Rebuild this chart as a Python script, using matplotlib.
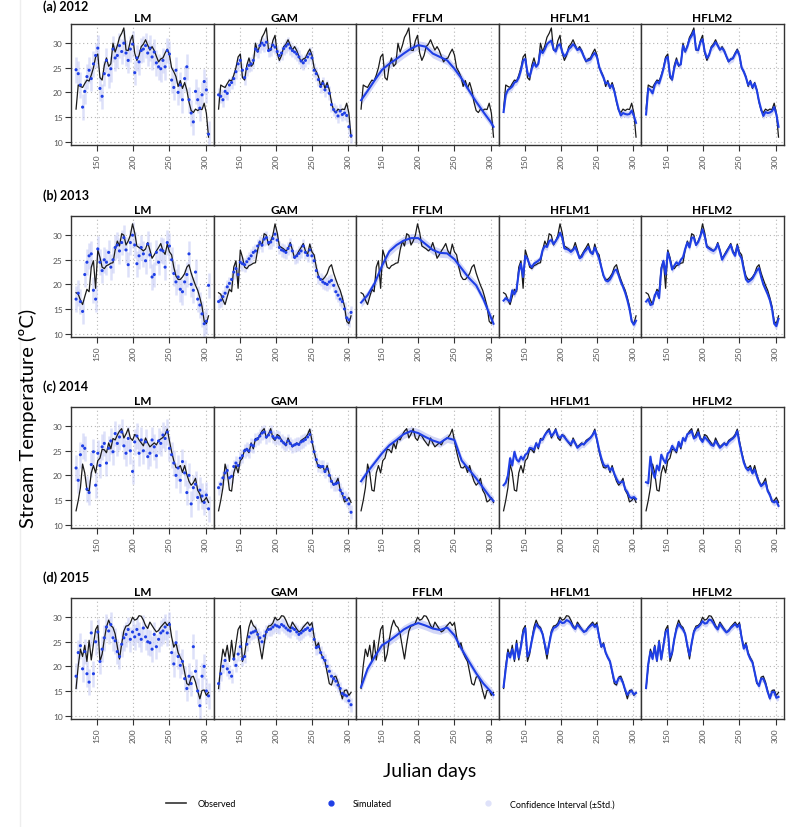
import numpy as np
import matplotlib
matplotlib.use("Agg")
import matplotlib.pyplot as plt
from matplotlib.lines import Line2D

plt.rcParams['font.family'] = ['Lato', 'DejaVu Sans']

years = ['2012', '2013', '2014', '2015']
row_labels = ['(a) 2012', '(b) 2013', '(c) 2014', '(d) 2015']
models = ['LM', 'GAM', 'FFLM', 'HFLM1', 'HFLM2']
ci_half = [2.6, 1.4, 0.9, 0.7, 0.7]   # +- std per model

# julian days (every 3rd day) and a coarser grid for the smooth FFLM fit
days = list(range(121, 305, 3))
days_smooth = [121, 130, 140, 150, 160, 170, 180, 190, 200, 210,
               220, 230, 240, 250, 260, 270, 280, 290, 300, 304]

# ---- 2012 ----
obs_2012 = [16.6, 21.5, 21.2, 21.0, 21.8, 22.5, 22.3, 23.5, 25.0, 27.2,
            27.8, 23.0, 22.5, 25.5, 27.0, 25.3, 25.8, 30.0, 28.2, 29.5,
            31.2, 32.0, 33.1, 28.6, 28.5, 30.5, 31.6, 28.0, 26.5, 27.5,
            29.3, 29.8, 30.7, 29.6, 28.6, 29.3, 28.5, 27.3, 26.2, 26.8,
            27.0, 28.0, 28.8, 27.6, 25.0, 24.2, 23.2, 21.2, 22.4, 20.8,
            22.0, 20.5, 18.0, 16.3, 15.9, 16.6, 16.3, 16.6, 16.5, 17.8,
            15.8, 10.9]
lm_2012 = [24.6, 23.8, 21.5, 17.0, 20.2, 23.2, 24.5, 22.8, 25.8, 27.5,
           29.0, 20.8, 19.2, 23.8, 26.5, 23.5, 24.8, 28.8, 27.0, 27.5,
           29.5, 28.3, 30.0, 28.0, 26.5, 28.8, 29.8, 24.0, 27.0, 26.2,
           28.5, 28.8, 29.5, 28.0, 29.0, 27.2, 28.2, 26.0, 25.2, 24.8,
           26.5, 25.2, 28.5, 27.8, 22.5, 21.0, 24.5, 20.0, 21.5, 18.5,
           22.8, 25.2, 18.5, 15.8, 14.0, 20.2, 18.5, 16.8, 19.5, 22.2,
           20.5, 11.5]
gam_2012 = [19.5, 19.2, 18.5, 20.2, 19.8, 21.5, 22.0, 22.8, 24.2, 25.8,
            26.5, 24.5, 23.0, 24.8, 25.5, 25.8, 26.5, 28.8, 28.4, 29.5,
            30.0, 29.6, 30.2, 28.5, 28.8, 29.6, 29.2, 28.3, 27.5, 28.0,
            28.9, 29.4, 29.8, 29.0, 28.5, 28.2, 27.8, 27.2, 26.4, 26.0,
            26.5, 27.2, 27.8, 27.0, 24.5, 23.8, 22.6, 21.2, 21.8, 20.5,
            21.2, 19.8, 17.5, 16.5, 16.0, 15.2, 16.2, 15.5, 15.8, 15.3,
            13.0, 11.2]
fflm_2012 = [18.4, 20.3, 22.5, 24.6, 25.8, 26.8, 27.9, 28.9, 29.6, 29.3,
             27.9, 27.2, 26.5, 24.8, 22.8, 20.4, 18.1, 16.0, 14.0, 13.0]
hflm1_2012 = [16.0, 19.5, 20.5, 20.8, 21.2, 22.0, 22.2, 23.0, 24.5, 26.5,
              26.8, 24.0, 23.2, 24.8, 26.0, 25.2, 25.8, 28.5, 28.0, 28.8,
              29.8, 30.2, 30.5, 28.8, 28.3, 29.5, 29.8, 28.2, 27.3, 27.8,
              28.8, 29.2, 29.8, 29.3, 28.6, 28.9, 28.3, 27.2, 26.4, 26.5,
              26.7, 27.5, 28.0, 27.2, 25.2, 24.0, 23.0, 21.8, 22.0, 21.0,
              21.5, 20.2, 18.3, 16.5, 15.3, 15.8, 15.6, 15.5, 15.6, 16.3,
              15.2, 13.8]
hflm2_2012 = [15.5, 20.8, 20.5, 19.8, 21.5, 22.2, 21.8, 23.2, 24.8, 26.8,
              27.2, 23.5, 22.6, 25.0, 26.5, 25.5, 25.7, 29.5, 28.3, 29.3,
              30.8, 31.5, 32.5, 28.7, 28.6, 30.2, 30.8, 28.3, 27.0, 27.6,
              29.0, 29.5, 30.2, 29.5, 28.7, 29.0, 28.4, 27.3, 26.3, 26.7,
              26.9, 27.8, 28.5, 27.5, 25.0, 24.2, 23.0, 21.5, 22.2, 21.0,
              21.8, 20.4, 18.2, 16.5, 15.2, 16.0, 15.8, 15.9, 16.2, 17.0,
              15.5, 13.0]

# ---- 2013 ----
obs_2013 = [18.3, 18.0, 16.8, 15.9, 17.5, 19.0, 18.5, 23.5, 24.8, 19.2,
            27.0, 25.5, 23.5, 23.2, 23.8, 24.0, 24.3, 24.4, 27.0, 28.8,
            27.8, 30.3, 30.0, 28.0, 28.8, 30.0, 32.3, 30.5, 27.8, 27.5,
            27.2, 26.8, 27.2, 28.5, 27.0, 25.3, 26.0, 26.8, 27.5, 28.3,
            26.8, 26.1, 28.2, 26.6, 26.0, 23.5, 21.7, 21.0, 21.0, 21.5,
            22.2, 23.5, 24.0, 22.3, 21.0, 19.8, 18.8, 17.3, 15.5, 12.5,
            12.0, 13.6]
lm_2013 = [17.0, 18.2, 16.5, 14.5, 22.0, 24.5, 25.8, 26.2, 18.8, 17.0,
           27.2, 24.5, 22.8, 25.0, 24.5, 26.5, 23.5, 25.0, 27.5, 28.0,
           26.8, 28.5, 29.5, 27.0, 24.0, 28.5, 30.0, 28.0, 24.2, 25.8,
           27.5, 26.2, 24.8, 28.2, 26.0, 21.5, 22.0, 26.5, 24.5, 27.0,
           26.8, 23.5, 28.5, 27.8, 25.0, 22.2, 20.5, 21.5, 19.0, 18.5,
           20.5, 22.0, 26.2, 20.0, 18.8, 22.5, 17.0, 15.8, 14.0, 12.0,
           12.5, 19.8]
gam_2013 = [16.5, 16.8, 17.5, 18.2, 19.5, 20.2, 21.0, 22.5, 23.2, 22.0,
            24.5, 24.2, 24.0, 24.6, 25.2, 25.8, 26.5, 26.8, 27.8, 28.5,
            28.0, 29.2, 29.5, 28.5, 28.6, 29.3, 30.2, 29.0, 27.5, 27.0,
            26.8, 26.5, 27.3, 28.0, 26.8, 25.5, 25.8, 26.3, 26.8, 27.8,
            26.5, 25.9, 27.0, 25.8, 24.8, 22.8, 21.5, 21.0, 20.5, 20.2,
            20.0, 20.5, 20.8, 19.8, 18.5, 17.8, 17.0, 16.5, 15.0, 13.2,
            12.8, 14.3]
fflm_2013 = [16.3, 17.8, 20.3, 23.8, 26.7, 28.0, 28.9, 29.4, 29.4, 28.2,
             27.0, 26.4, 26.3, 25.1, 23.2, 21.3, 19.8, 17.0, 13.4, 12.0]
hflm1_2013 = [16.7, 17.2, 16.8, 16.5, 18.8, 18.0, 19.0, 22.5, 24.2, 21.5,
              25.8, 25.2, 24.0, 23.5, 24.2, 24.5, 24.8, 25.2, 27.0, 27.8,
              27.6, 28.8, 29.0, 28.2, 28.8, 29.5, 30.5, 29.5, 27.3, 27.2,
              27.0, 26.6, 27.0, 27.6, 26.5, 25.3, 25.6, 26.5, 27.0, 27.6,
              26.5, 26.2, 27.5, 26.4, 25.2, 23.5, 21.8, 20.8, 20.6, 21.0,
              21.8, 22.8, 23.0, 21.8, 20.5, 19.5, 18.3, 16.8, 15.0, 12.5,
              11.8, 12.6]
hflm2_2013 = [16.5, 17.0, 15.8, 16.0, 17.8, 18.5, 17.2, 23.0, 24.8, 22.0,
              26.5, 25.0, 23.0, 23.8, 24.5, 24.0, 25.0, 25.5, 27.2, 28.5,
              27.5, 29.5, 29.5, 28.0, 28.6, 29.8, 31.2, 29.8, 27.6, 27.3,
              27.0, 26.8, 27.2, 28.2, 26.8, 25.0, 25.8, 26.5, 27.3, 28.0,
              26.5, 25.8, 27.8, 26.0, 25.3, 23.0, 21.0, 20.5, 20.8, 21.2,
              22.0, 22.8, 23.3, 21.5, 20.0, 19.0, 18.0, 16.8, 15.0, 12.0,
              11.5, 13.0]

# ---- 2014 ----
obs_2014 = [12.8, 14.9, 17.5, 22.3, 20.5, 17.0, 16.8, 20.5, 22.0, 20.5,
            23.0, 23.5, 25.3, 25.2, 24.6, 26.6, 25.4, 27.5, 27.2, 28.2,
            29.0, 29.5, 27.6, 28.4, 29.5, 27.6, 27.1, 28.3, 28.0, 27.2,
            26.6, 26.0, 27.6, 26.6, 25.8, 26.2, 26.6, 26.2, 27.1, 27.4,
            27.7, 28.3, 29.4, 27.0, 24.8, 23.0, 21.6, 21.5, 22.0, 20.6,
            22.0, 20.2, 18.8, 18.0, 18.5, 19.4, 17.0, 16.2, 14.6, 14.9,
            15.5, 14.5]
lm_2014 = [21.5, 19.0, 24.2, 26.0, 25.5, 17.2, 16.5, 22.2, 24.8, 18.0,
           24.5, 22.0, 25.8, 26.5, 22.5, 25.5, 27.0, 24.8, 28.5, 26.5,
           27.8, 28.8, 26.0, 24.5, 27.5, 25.0, 20.8, 26.8, 28.0, 24.5,
           27.2, 25.0, 26.8, 23.8, 24.5, 27.2, 25.8, 24.0, 27.0, 26.5,
           28.2, 27.5, 28.8, 25.5, 24.2, 22.5, 20.0, 21.5, 19.0, 22.8,
           20.5, 16.5, 20.0, 14.2, 17.5, 18.2, 15.5, 17.0, 15.8, 14.5,
           16.0, 13.2]
gam_2014 = [17.5, 18.2, 19.5, 20.5, 21.0, 19.5, 19.8, 21.8, 22.5, 22.0,
            23.5, 24.0, 25.0, 25.3, 25.0, 26.2, 26.0, 27.2, 27.5, 28.0,
            28.6, 28.8, 27.8, 28.2, 28.8, 27.9, 27.5, 27.8, 27.6, 27.0,
            26.6, 26.3, 27.0, 26.5, 26.0, 26.2, 26.4, 26.3, 26.8, 27.0,
            27.3, 27.8, 28.3, 26.8, 24.8, 23.2, 22.0, 21.8, 21.8, 20.8,
            21.3, 20.0, 18.8, 18.2, 18.3, 18.5, 17.0, 16.3, 15.5, 15.0,
            14.2, 12.5]
fflm_2014 = [18.8, 20.7, 22.6, 24.5, 26.1, 27.2, 28.4, 29.0, 28.6, 27.8,
             27.1, 26.6, 27.6, 27.2, 23.0, 21.2, 19.4, 17.4, 15.4, 14.8]
hflm1_2014 = [18.0, 18.5, 20.0, 23.5, 22.0, 24.8, 23.2, 22.8, 23.8, 23.2,
              24.2, 24.5, 25.6, 25.5, 25.2, 26.5, 25.8, 27.2, 27.3, 28.2,
              28.8, 29.1, 28.0, 28.5, 29.2, 28.0, 27.6, 28.2, 27.8, 27.2,
              26.7, 26.3, 27.2, 26.5, 25.6, 26.0, 26.4, 26.3, 26.8, 27.2,
              27.6, 28.2, 29.0, 27.3, 25.2, 23.5, 22.2, 21.8, 22.0, 21.0,
              21.5, 20.3, 19.3, 18.5, 18.6, 18.8, 17.2, 16.6, 15.6, 15.4,
              15.6, 15.2]
hflm2_2014 = [18.6, 18.4, 23.8, 20.8, 19.5, 22.0, 21.0, 24.2, 23.2, 22.5,
              24.5, 24.8, 26.0, 25.3, 25.0, 26.8, 25.8, 27.6, 27.0, 28.4,
              28.6, 29.0, 27.5, 27.8, 28.7, 27.4, 26.8, 27.8, 27.3, 26.8,
              26.2, 26.0, 27.0, 26.3, 25.6, 26.0, 26.5, 26.1, 26.8, 27.2,
              27.5, 28.0, 29.0, 26.5, 24.5, 22.6, 21.5, 21.0, 21.5, 20.4,
              21.2, 19.8, 18.6, 17.8, 18.2, 18.6, 16.8, 16.0, 14.8, 14.5,
              14.8, 13.8]

# ---- 2015 ----
obs_2015 = [15.5, 20.1, 23.5, 22.0, 24.3, 21.0, 25.3, 21.3, 24.5, 27.5,
            28.3, 21.0, 22.5, 25.5, 28.0, 29.4, 28.3, 27.9, 26.6, 24.0,
            21.5, 24.6, 27.2, 28.2, 28.3, 28.8, 30.0, 29.4, 29.6, 30.3,
            30.2, 29.4, 28.3, 27.7, 29.0, 28.3, 27.6, 27.0, 27.3, 28.0,
            28.5, 29.0, 28.3, 28.9, 26.0, 23.9, 24.8, 22.8, 21.8, 21.0,
            18.8, 16.5, 16.2, 17.8, 18.0, 16.8, 15.0, 13.4, 15.1, 15.2,
            14.1, 14.7]
lm_2015 = [18.0, 22.8, 24.2, 19.5, 23.0, 18.5, 16.8, 26.8, 18.5, 25.0,
           27.0, 21.0, 23.5, 25.8, 28.0, 27.2, 28.5, 25.8, 25.2, 23.0,
           22.0, 24.5, 25.8, 26.5, 27.5, 25.5, 27.0, 26.0, 27.5, 26.5,
           25.5, 27.8, 26.0, 25.0, 24.8, 23.5, 26.5, 24.0, 25.5, 26.8,
           27.2, 28.0, 26.8, 28.5, 22.8, 20.5, 24.8, 22.0, 20.2, 21.0,
           17.5, 15.5, 18.0, 16.5, 24.0, 19.0, 15.0, 12.0, 18.0, 20.0,
           15.0, 14.0]
gam_2015 = [16.5, 18.5, 20.0, 21.2, 19.5, 18.8, 18.0, 21.5, 20.2, 22.5,
            24.0, 21.5, 22.0, 24.5, 26.0, 26.8, 27.0, 27.2, 26.5, 25.8,
            25.0, 26.2, 27.0, 27.5, 27.6, 28.0, 28.4, 28.2, 28.0, 28.5,
            28.2, 27.8, 27.4, 27.2, 27.8, 27.5, 27.0, 26.5, 26.8, 27.2,
            27.5, 27.8, 27.3, 27.6, 25.5, 23.8, 24.0, 22.8, 21.8, 21.2,
            20.0, 19.0, 18.0, 17.5, 17.0, 16.2, 15.5, 14.5, 14.2, 14.0,
            13.0, 12.2]
fflm_2015 = [15.8, 19.5, 22.0, 24.3, 25.2, 26.3, 27.5, 28.3, 28.8, 28.3,
             27.7, 27.4, 27.9, 26.3, 23.5, 21.0, 18.6, 16.5, 14.9, 14.2]
hflm1_2015 = [15.8, 19.5, 22.8, 21.8, 23.5, 21.5, 24.6, 21.8, 24.0, 26.8,
              27.8, 22.0, 23.0, 25.2, 27.3, 28.6, 28.0, 27.6, 26.5, 24.5,
              22.5, 24.6, 26.8, 27.8, 28.0, 28.4, 29.2, 28.8, 28.9, 29.4,
              29.2, 28.8, 28.0, 27.6, 28.5, 28.0, 27.5, 27.0, 27.2, 27.8,
              28.2, 28.6, 28.0, 28.4, 26.0, 24.0, 24.5, 22.8, 21.8, 21.0,
              19.0, 17.0, 16.6, 17.6, 17.6, 16.6, 15.2, 14.2, 14.8, 15.0,
              14.3, 14.6]
hflm2_2015 = [15.6, 20.5, 23.0, 21.5, 24.0, 21.2, 25.0, 21.5, 24.2, 27.0,
              27.5, 21.8, 22.8, 25.6, 27.6, 28.6, 28.0, 27.5, 26.6, 24.3,
              22.2, 24.8, 27.0, 27.8, 28.0, 28.5, 29.2, 28.7, 28.8, 29.5,
              29.4, 28.8, 28.0, 27.5, 28.6, 28.0, 27.4, 26.9, 27.2, 27.8,
              28.2, 28.6, 28.0, 28.5, 25.8, 23.6, 24.4, 22.5, 21.5, 20.8,
              18.8, 16.8, 16.0, 17.5, 17.5, 16.4, 14.8, 13.5, 14.8, 14.8,
              13.6, 13.8]

observed = {'2012': obs_2012, '2013': obs_2013, '2014': obs_2014, '2015': obs_2015}
simulated = {
    '2012': [lm_2012, gam_2012, fflm_2012, hflm1_2012, hflm2_2012],
    '2013': [lm_2013, gam_2013, fflm_2013, hflm1_2013, hflm2_2013],
    '2014': [lm_2014, gam_2014, fflm_2014, hflm1_2014, hflm2_2014],
    '2015': [lm_2015, gam_2015, fflm_2015, hflm1_2015, hflm2_2015],
}

BLUE = '#1f3fe6'
BAND = '#c7ccf6'
GRAY = '#555555'

W, H = 795, 828
fig = plt.figure(figsize=(W / 100, H / 100), dpi=100)

col_left = [71, 213.5, 356, 498.5, 641]
row_top = [25, 217, 408, 599]
pw, ph = 142.6, 121

for r, yr in enumerate(years):
    obs = np.array(observed[yr])
    for c, m in enumerate(models):
        ax = fig.add_axes([col_left[c] / W, 1 - (row_top[r] + ph) / H, pw / W, ph / H])
        sim = np.array(simulated[yr][c])
        ci = ci_half[c]
        if m in ('LM', 'GAM'):
            ax.vlines(days, sim - ci, sim + ci, color=BAND, lw=1.8, alpha=0.6, zorder=2)
            ax.plot(days, obs, color='#1a1a1a', lw=0.9, zorder=3)
            ax.scatter(days, sim, s=5, color=BLUE, edgecolors='none', zorder=4)
        else:
            x = days_smooth if m == 'FFLM' else days
            ax.fill_between(x, sim - ci, sim + ci, color=BAND, alpha=0.8, lw=0, zorder=2)
            ax.plot(days, obs, color='#1a1a1a', lw=0.9, zorder=3)
            ax.plot(x, sim, color=BLUE, lw=1.5, zorder=4)

        ax.set_xlim(114, 311)
        ax.set_ylim(9.3, 33.9)
        ax.set_xticks([150, 200, 250, 300])
        ax.set_xticklabels(['150', '200', '250', '300'], rotation=90)
        ax.set_yticks([10, 15, 20, 25, 30])
        ax.grid(True, ls=(0, (1, 2.5)), color='#b5b5b5', lw=0.8)
        ax.tick_params(axis='both', direction='out', length=4, width=0.8,
                       color='#333333', labelcolor=GRAY, labelsize=6, pad=2)
        ax.tick_params(top=False, right=False)
        if c > 0:
            ax.tick_params(left=False, labelleft=False)
        for s in ax.spines.values():
            s.set_color('#333333')
            s.set_linewidth(1.0)
        ax.set_title(m, fontsize=8.5, fontweight='bold', pad=2.5)

    label_y = row_top[r] - 21 if r > 0 else 7
    fig.text(43 / W, 1 - label_y / H, row_labels[r], fontsize=9,
             fontweight='bold', ha='left', va='center')

fig.text(28 / W, 1 - 418 / H, 'Stream Temperature (ºC)', rotation=90,
         fontsize=14.5, ha='center', va='center')
fig.text(430 / W, 1 - 772 / H, 'Julian days', fontsize=14, ha='center', va='center')

# faint page edge on the left
fig.add_artist(Line2D([20 / W, 20 / W], [0, 1], color='#eeeeee', lw=1))

handles = [Line2D([], [], color='#333333', lw=1.2),
           Line2D([], [], ls='none', marker='o', ms=3.5, color=BLUE),
           Line2D([], [], ls='none', marker='o', ms=3.5, color='#dfe2fa')]
fig.legend(handles, ['Observed', 'Simulated', 'Confidence Interval (±Std.)'],
           loc='center', bbox_to_anchor=(390 / W, 1 - 805 / H), ncol=3,
           frameon=False, fontsize=6.5, handlelength=2.2, handletextpad=1.3,
           columnspacing=9.5)

fig.savefig('out.png', dpi=100)
